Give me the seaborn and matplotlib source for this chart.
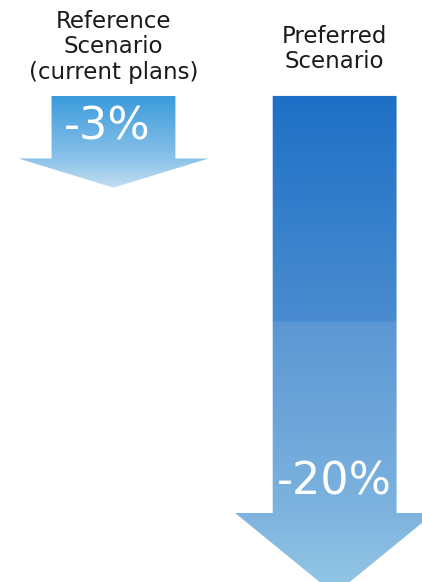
import numpy as np
import matplotlib
matplotlib.use("Agg")
import matplotlib.pyplot as plt
import pandas as pd
import seaborn as sns
from matplotlib.colors import to_rgb
from matplotlib.patches import Polygon

# Emission change by scenario
scenarios = ["Reference\nScenario\n(current plans)", "Preferred\nScenario"]
changes = [-3, -20]
value_labels = ["-3%", "-20%"]

# Arrow styling (per scenario)
head_half_width = [0.43, 0.45]
head_length = [1.4, 3.9]
title_offset = [0.58, 1.1]
label_dx = [-0.03, 0.0]
gradients = [
    [(0.0, "#3a9bdc"), (-3.0, "#8cc2e8"), (-4.4, "#c2def2")],
    [(0.0, "#1d70c6"), (-10.8, "#4a8ccf"), (-10.9, "#5c97d4"),
     (-20.0, "#7db3de"), (-23.9, "#95c9e7")],
]

sns.set_theme(style="white")
plt.rcParams["font.family"] = ["DejaVu Sans"]

fig = plt.figure(figsize=(4.22, 5.82), dpi=100)
ax = fig.add_axes([0, 0, 1, 1])

df = pd.DataFrame({"scenario": scenarios, "change": changes})
sns.barplot(data=df, x="scenario", y="change", width=0.56, color="#1d70c6",
            ax=ax)

ax.set_xlim(-0.513, 1.395)
ax.set_ylim(-23.31, 4.60)
ax.axis("off")


def gradient_image(stops, y_top, y_bottom, n=600):
    ys = np.linspace(y_top, y_bottom, n)
    sy = np.array([s[0] for s in stops])
    cols = np.array([to_rgb(s[1]) for s in stops])
    img = np.zeros((n, 1, 3))
    for c in range(3):
        # stops run top to bottom (decreasing y); np.interp needs increasing
        img[:, 0, c] = np.interp(ys, sy[::-1], cols[::-1, c])
    return img


for i, bar in enumerate(ax.patches):
    x0 = bar.get_x()
    w = bar.get_width()
    xc = x0 + w / 2
    v = changes[i]
    hw = head_half_width[i]
    hl = head_length[i]
    verts = [
        (x0, 0), (x0 + w, 0), (x0 + w, v), (xc + hw, v),
        (xc, v - hl), (xc - hw, v), (x0, v),
    ]
    bar.set_visible(False)
    arrow = Polygon(verts, closed=True, facecolor="none", edgecolor="none")
    ax.add_patch(arrow)
    y_top, y_bot = 0, v - hl
    img = gradient_image(gradients[i], y_top, y_bot)
    im = ax.imshow(img, extent=(xc - hw, xc + hw, y_bot, y_top),
                   aspect="auto", origin="upper", interpolation="bilinear",
                   zorder=2)
    im.set_clip_path(arrow)

    ax.text(xc, title_offset[i], scenarios[i], ha="center", va="bottom",
            fontsize=16.5, color="#1a1a1a", linespacing=1.13, zorder=3)
    ax.text(xc + label_dx[i], v + 1.5, value_labels[i], ha="center",
            va="center", fontsize=32, color="white", zorder=3)

ax.set_xlim(-0.513, 1.395)
ax.set_ylim(-23.31, 4.60)

fig.savefig("out.png", dpi=100)
